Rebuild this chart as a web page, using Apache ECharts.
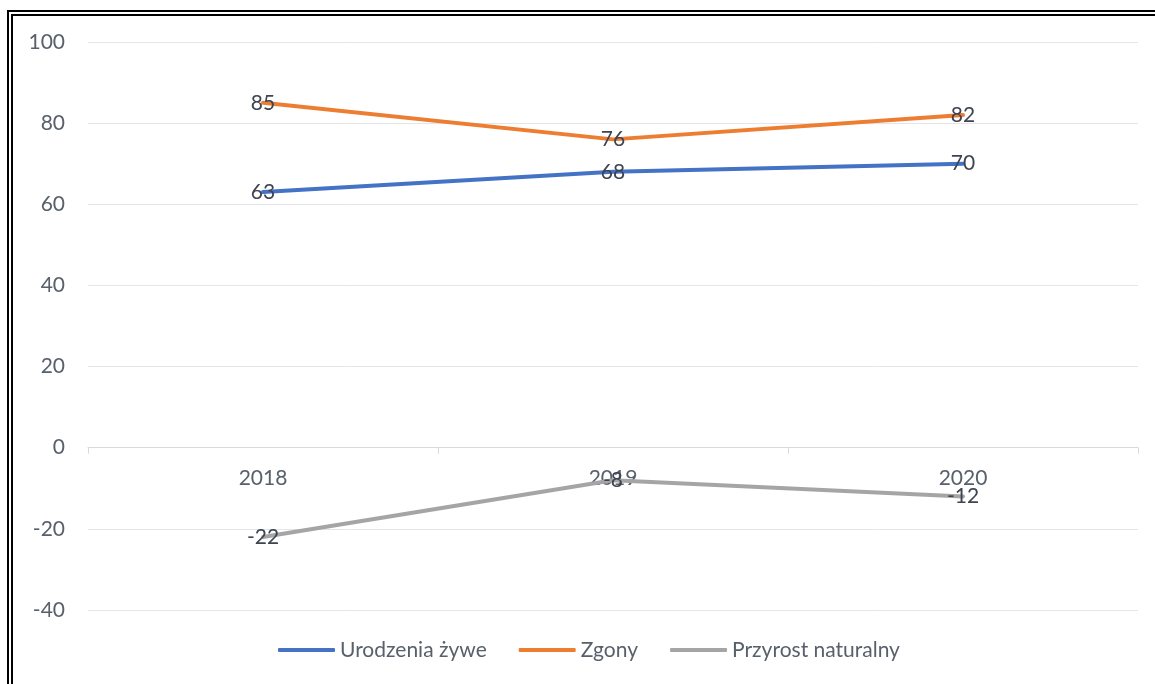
<!DOCTYPE html>
<html>
<head>
<meta charset="utf-8">
<script src="https://cdn.jsdelivr.net/npm/echarts@6/dist/echarts.min.js"></script>
<style>
html,body{margin:0;padding:0;background:#fff;overflow:hidden;}
#frame{position:absolute;left:7px;top:10px;width:1160px;height:690px;border:6px double #000;box-sizing:border-box;}
#chart{position:absolute;left:0;top:0;width:1155px;height:684px;}
</style>
</head>
<body>
<div id="frame"></div>
<div id="chart"></div>
<script>
const categories = ['2018', '2019', '2020'];
const seriesNames = ['Urodzenia żywe', 'Zgony', 'Przyrost naturalny'];
const births = [63, 68, 70];
const deaths = [85, 76, 82];
const growth = [-22, -8, -12];
const colors = ['#4472C4', '#ED7D31', '#A5A5A5'];
const fontFam = 'Lato, "Open Sans", sans-serif';

const gridTop = 42, gridBottom = 74, H = 684;
const yMin = -40, yMax = 100;
const plotH = H - gridTop - gridBottom;
const zeroOffset = -plotH * (0 - yMin) / (yMax - yMin);

const chart = echarts.init(document.getElementById('chart'), null, {renderer: 'canvas'});
function mk(name, data, color) {
  return {
    name: name, type: 'line', data: data,
    symbol: 'circle', symbolSize: 0,
    lineStyle: {width: 4, color: color, cap: 'round'},
    itemStyle: {color: color},
    label: {show: true, position: 'inside', color: '#3e4450', fontSize: 21, fontFamily: fontFam},
    emphasis: {disabled: true},
    animation: false
  };
}
chart.setOption({
  animation: false,
  grid: {left: 88, right: 17, top: gridTop, bottom: gridBottom, containLabel: false},
  legend: {
    top: 634, left: 273,
    itemWidth: 57, itemHeight: 4, itemGap: 32,
    icon: 'roundRect',
    textStyle: {color: '#58606c', fontSize: 21, lineHeight: 22, fontFamily: fontFam},
    data: seriesNames
  },
  xAxis: {
    type: 'category', data: categories, boundaryGap: true,
    position: 'bottom', offset: zeroOffset,
    axisLine: {onZero: false, lineStyle: {color: '#d9d9d9', width: 1}},
    axisTick: {show: true, length: 6, lineStyle: {color: '#d9d9d9'}},
    axisLabel: {color: '#58606c', fontSize: 21, lineHeight: 21, fontFamily: fontFam, margin: 20},
    splitLine: {show: false}
  },
  yAxis: {
    type: 'value', min: yMin, max: yMax, interval: 20,
    axisLine: {show: false}, axisTick: {show: false},
    axisLabel: {color: '#58606c', fontSize: 21, fontFamily: fontFam, margin: 23},
    splitLine: {lineStyle: {color: '#e3e5ea', width: 1}}
  },
  series: [
    mk(seriesNames[0], births, colors[0]),
    mk(seriesNames[1], deaths, colors[1]),
    mk(seriesNames[2], growth, colors[2])
  ]
});
</script>
</body>
</html>
